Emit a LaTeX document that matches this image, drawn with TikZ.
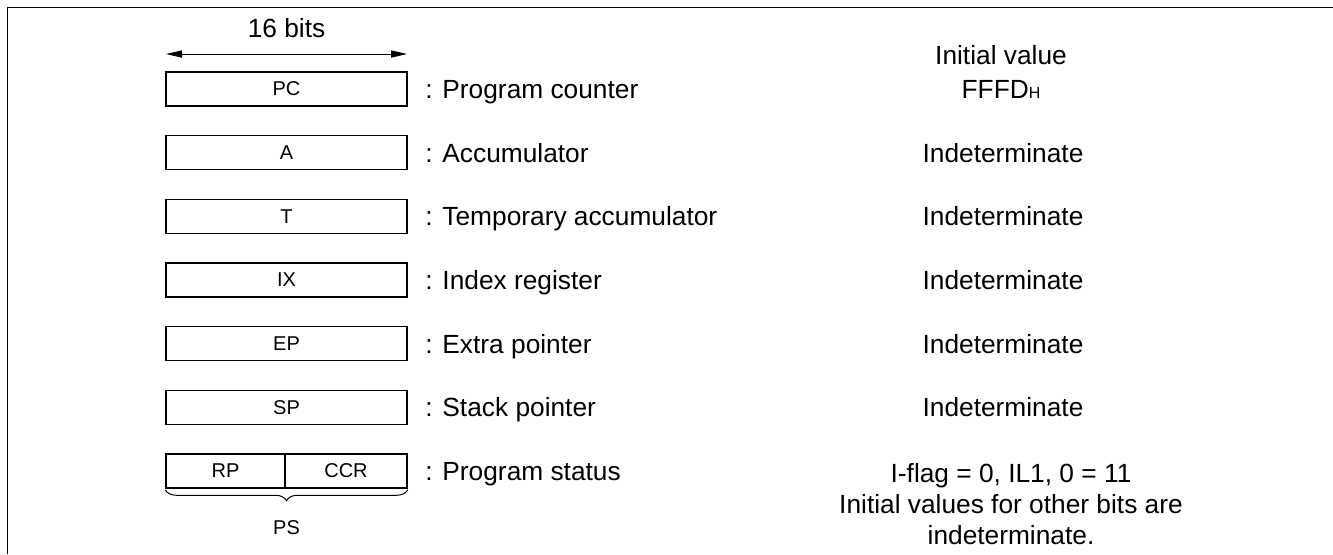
\documentclass[tikz,border=0pt]{standalone}
\usepackage{fontspec}
\setmainfont{Liberation Sans}
\usetikzlibrary{arrows.meta,decorations.pathreplacing}
\begin{document}
\begin{tikzpicture}[x=0.5pt,y=-0.5pt,
  reg/.style={draw, line width=0.75pt, minimum width=120.5pt, minimum height=17pt, inner sep=0pt, font=\fontsize{10}{12}\selectfont},
  regtxt/.style={inner sep=0pt, font=\fontsize{10}{12}\selectfont},
  lbl/.style={anchor=base west, inner sep=0pt, font=\fontsize{13.15}{16}\selectfont},
  val/.style={anchor=base, inner sep=0pt, font=\fontsize{13.15}{16}\selectfont},
  dimarrow/.style={line width=0.5pt, {Triangle[length=8pt,width=3.6pt]}-{Triangle[length=8pt,width=3.6pt]}}]
\useasboundingbox (0,0) rectangle (1333,554);
% frame
\draw[line width=0.75pt] (7.5,554) -- (7.5,7.5) -- (1333,7.5);
% width arrow
\coordinate (al) at (166,54);
\coordinate (ar) at (407,54);
\draw[dimarrow] (al) -- (ar);
\node[val] (bits) at (286.5,37.4) {16 bits};
% registers
\node[reg] (pc) at (286.5,89) {PC};
\node[reg] (a) at (286.5,152.7) {A};
\node[reg] (t) at (286.5,216.3) {T};
\node[reg] (ix) at (286.5,280) {IX};
\node[reg] (ep) at (286.5,343.7) {EP};
\node[reg] (sp) at (286.5,407.3) {SP};
\node[reg] (psbox) at (286.5,471) {};
\draw[line width=0.75pt] ([xshift=-0.75pt]psbox.north) -- ([xshift=-0.75pt]psbox.south);
\node[regtxt] (rp) at (225.5,471) {RP};
\node[regtxt] (ccr) at (346,471) {CCR};
\draw[line width=0.5pt, decorate, decoration={brace, mirror, amplitude=5.5pt}] ([yshift=-0.5pt]psbox.south west) -- ([yshift=-0.5pt]psbox.south east);
\node[regtxt] (ps) at (286.5,528) {PS};
% descriptions
\node[lbl] (dpc) at (425,98.4) {: Program counter};
\node[lbl] (da) at (425,162.1) {: Accumulator};
\node[lbl] (dt) at (425,225.7) {: Temporary accumulator};
\node[lbl] (dix) at (425,289.4) {: Index register};
\node[lbl] (dep) at (425,353.1) {: Extra pointer};
\node[lbl] (dsp) at (425,416.7) {: Stack pointer};
\node[lbl] (dps) at (425,480.4) {: Program status};
% initial values
\node[val] (hdr) at (1001,64) {Initial value};
\node[val] (vpc) at (1001,98.4) {FFFD{\fontsize{8}{10}\selectfont H}};
\node[val] (va) at (1003,162.1) {Indeterminate};
\node[val] (vt) at (1003,225.7) {Indeterminate};
\node[val] (vix) at (1003,289.4) {Indeterminate};
\node[val] (vep) at (1003,353.1) {Indeterminate};
\node[val] (vsp) at (1003,416.7) {Indeterminate};
\node[val] (vps1) at (1011,482) {I-flag = 0, IL1, 0 = 11};
\node[val] (vps2) at (1011,513) {Initial values for other bits are};
\node[val] (vps3) at (1011,544) {indeterminate.};
\end{tikzpicture}
\end{document}
